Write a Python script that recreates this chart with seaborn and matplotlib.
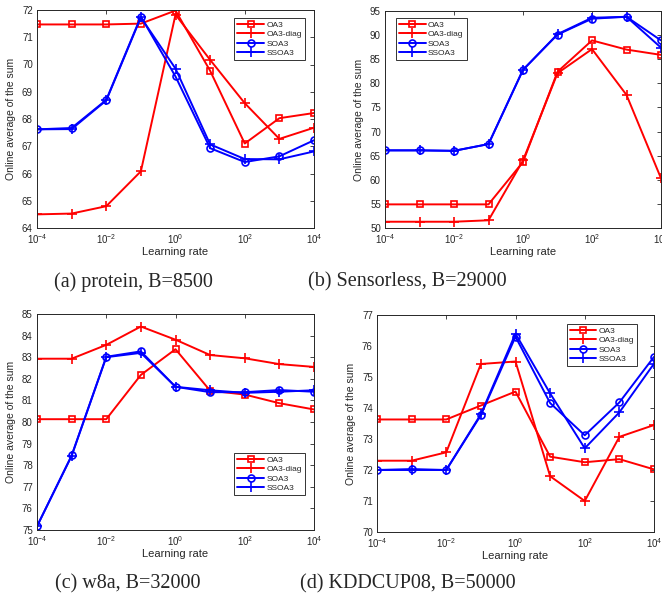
import matplotlib
matplotlib.use("Agg")
import matplotlib.pyplot as plt
import numpy as np
import pandas as pd
import seaborn as sns
from matplotlib.ticker import NullLocator

# learning rates shared by all four panels
rates = [1e-4, 1e-3, 1e-2, 1e-1, 1e0, 1e1, 1e2, 1e3, 1e4]
methods = ["OA3", "OA3-diag", "SOA3", "SSOA3"]

# (a) protein
protein_oa3 = [71.47, 71.47, 71.47, 71.50, 71.98, 69.77, 67.10, 68.03, 68.22]
protein_oa3d = [64.50, 64.53, 64.80, 66.08, 71.83, 70.17, 68.58, 67.27, 67.68]
protein_soa3 = [67.62, 67.67, 68.70, 71.76, 69.56, 66.93, 66.42, 66.63, 67.22]
protein_ssoa3 = [67.62, 67.63, 68.68, 71.73, 69.85, 67.07, 66.53, 66.52, 66.81]

# (b) Sensorless
sensor_oa3 = [54.9, 54.9, 54.9, 54.9, 63.7, 82.4, 88.9, 87.0, 85.9]
sensor_oa3d = [51.3, 51.3, 51.3, 51.6, 64.0, 82.1, 87.1, 77.6, 60.3]
sensor_soa3 = [66.1, 66.1, 66.0, 67.4, 82.8, 90.1, 93.4, 93.8, 88.9]
sensor_ssoa3 = [66.1, 66.1, 66.0, 67.4, 82.8, 90.2, 93.6, 93.8, 87.4]

# (c) w8a
w8a_oa3 = [80.13, 80.13, 80.13, 82.18, 83.37, 81.45, 81.27, 80.87, 80.58]
w8a_oa3d = [82.93, 82.93, 83.57, 84.42, 83.81, 83.10, 82.95, 82.68, 82.55]
w8a_soa3 = [75.17, 78.45, 83.02, 83.27, 81.63, 81.38, 81.38, 81.48, 81.40]
w8a_ssoa3 = [75.17, 78.43, 83.00, 83.20, 81.63, 81.47, 81.35, 81.40, 81.47]

# (d) KDDCUP08
kdd_oa3 = [73.63, 73.63, 73.63, 74.08, 74.53, 72.43, 72.25, 72.35, 72.02]
kdd_oa3d = [72.30, 72.30, 72.57, 75.42, 75.50, 71.80, 71.00, 73.07, 73.45]
kdd_soa3 = [72.00, 72.03, 72.00, 73.77, 76.30, 74.16, 73.12, 74.18, 75.65]
kdd_ssoa3 = [72.00, 72.00, 72.00, 73.80, 76.40, 74.47, 72.70, 73.86, 75.43]

captions = ["(a) protein, B=8500", "(b) Sensorless, B=29000",
            "(c) w8a, B=32000", "(d) KDDCUP08, B=50000"]
panels = [
    [protein_oa3, protein_oa3d, protein_soa3, protein_ssoa3],
    [sensor_oa3, sensor_oa3d, sensor_soa3, sensor_ssoa3],
    [w8a_oa3, w8a_oa3d, w8a_soa3, w8a_ssoa3],
    [kdd_oa3, kdd_oa3d, kdd_soa3, kdd_ssoa3],
]
yticks = [np.arange(64, 73, 1), np.arange(50, 96, 5),
          np.arange(75, 86, 1), np.arange(70, 78, 1)]

sns.set_style("white")
plt.rcParams["font.family"] = ["Liberation Sans", "DejaVu Sans"]

W, H = 662, 599
fig = plt.figure(figsize=(W / 100, H / 100), dpi=100)

# axes boxes in pixels: left, top, right, bottom
boxes = [(37, 10, 314, 228), (385, 11, 661, 228),
         (37, 314, 314, 530), (377, 315, 654, 532)]
legend_loc = ["upper right", "upper left", "lower right", "upper right"]
legend_anchor = [(0.967, 0.963), (0.04, 0.968), (0.967, 0.162), (0.939, 0.959)]
caption_xy = [(133, 282), (407, 282), (128, 584), (408, 584)]

colors = ["#ff0000", "#ff0000", "#0000ff", "#0000ff"]
markers = ["s", "+", "o", "+"]
msizes = [4, 7, 5, 7]
gray = "#262626"

for i, vals in enumerate(panels):
    l, t, r, b = boxes[i]
    ax = fig.add_axes([l / W, 1 - b / H, (r - l) / W, (b - t) / H])
    df = pd.DataFrame({"rate": rates * 4,
                       "value": [v for s in vals for v in s],
                       "method": [m for m in methods for _ in rates]})
    for j, m in enumerate(methods):
        sns.lineplot(data=df[df["method"] == m], x="rate", y="value", ax=ax,
                     color=colors[j], marker=markers[j], markersize=msizes[j],
                     mfc="none", mec=colors[j], mew=1.2, lw=1.4, label=m)
    ax.set_xscale("log")
    ax.set_xlim(1e-4, 1e4)
    ax.set_xticks([1e-4, 1e-2, 1e0, 1e2, 1e4])
    ax.xaxis.set_minor_locator(NullLocator())
    ax.set_yticks(yticks[i])
    ax.set_ylim(yticks[i][0], yticks[i][-1])
    ax.tick_params(direction="in", top=True, right=True, length=3,
                   width=0.6, labelsize=7, colors=gray, pad=3)
    for sp in ax.spines.values():
        sp.set_color(gray)
        sp.set_linewidth(0.7)
    ax.set_xlabel("Learning rate", fontsize=8, color=gray, labelpad=1)
    ax.set_ylabel("Online average of the sum", fontsize=7.5, color=gray, labelpad=4)
    leg = ax.legend(loc=legend_loc[i], bbox_to_anchor=legend_anchor[i],
                    fontsize=6, frameon=True, fancybox=False,
                    handlelength=3.2, borderpad=0.35, labelspacing=0.2,
                    handletextpad=0.3, borderaxespad=0)
    leg.get_frame().set_edgecolor("black")
    leg.get_frame().set_linewidth(0.7)
    cx, cy = caption_xy[i]
    fig.text(cx / W, 1 - cy / H, captions[i], ha="center", va="center",
             fontsize=14.5, family=["Liberation Serif", "DejaVu Serif"])

fig.savefig("out.png", dpi=100)
